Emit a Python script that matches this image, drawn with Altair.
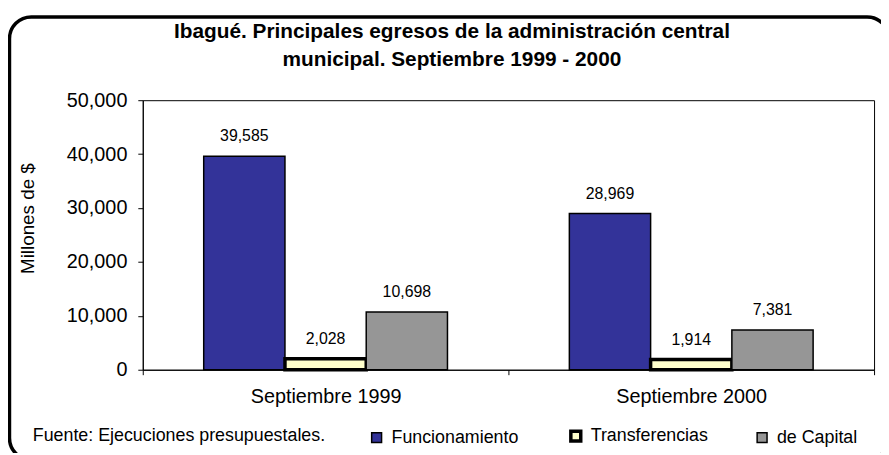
import altair as alt
import pandas as pd

periodos = ["Septiembre 1999", "Septiembre 2000"]
series = ["Funcionamiento", "Transferencias", "de Capital"]
funcionamiento = [39585, 28969]
transferencias = [2028, 1914]
de_capital = [10698, 7381]
colores = ["#333399", "#FFFFCC", "#969696"]
grosores = [1.5, 3.5, 1.5]
titulo = ["Ibagué. Principales egresos de la administración central",
          "municipal. Septiembre 1999 - 2000"]
eje_y = "Millones de $"
fuente = "Fuente: Ejecuciones presupuestales."
y_ticks = [0, 10000, 20000, 30000, 40000, 50000]

valores = {"Funcionamiento": funcionamiento, "Transferencias": transferencias, "de Capital": de_capital}
rows = []
for s in series:
    for p, v in zip(periodos, valores[s]):
        rows.append({"periodo": p, "serie": s, "valor": v})
df = pd.DataFrame(rows)

FONT = "Liberation Sans"

x = alt.X("periodo:N", sort=periodos, title=None,
          scale=alt.Scale(paddingInner=0, paddingOuter=0),
          axis=alt.Axis(labelAngle=0, labelFontSize=20, labelPadding=12, tickSize=5,
                        tickBand="extent", domainColor="black", tickColor="black",
                        labelColor="black"))
xoff = alt.XOffset("serie:N", sort=series,
                   scale=alt.Scale(paddingInner=0, paddingOuter=0.75))
y = alt.Y("valor:Q", scale=alt.Scale(domain=[0, 50000], nice=False),
          axis=alt.Axis(values=y_ticks, format=",.0f", labelFontSize=20, tickSize=5,
                        labelPadding=11, grid=False, title=eje_y, titleFontSize=19,
                        titleFontWeight="normal", titleX=-116, titleY=119,
                        titleBaseline="middle", titleColor="black",
                        domainColor="black", tickColor="black", labelColor="black"))

bars = alt.Chart(df).mark_bar(stroke="black").encode(
    x=x, xOffset=xoff, y=y,
    color=alt.Color("serie:N", sort=series,
                    scale=alt.Scale(domain=series, range=colores),
                    legend=alt.Legend(orient="none", legendX=227, legendY=330,
                                      direction="horizontal", title=None,
                                      symbolType="square", symbolSize=100,
                                      symbolStrokeColor="black",
                                      labelFontSize=18, labelOffset=6,
                                      columnPadding=45, labelColor="black",
                                      labelFont=FONT, padding=0)),
    strokeWidth=alt.StrokeWidth("serie:N", sort=series,
                                scale=alt.Scale(type="ordinal", domain=series, range=grosores)),
)

labels = alt.Chart(df).mark_text(baseline="bottom", dy=-12, fontSize=16,
                                 font=FONT, color="black").encode(
    x=x, xOffset=xoff, y=y, text=alt.Text("valor:Q", format=",.0f"))

titulo_txt = alt.Chart(pd.DataFrame({"a": [0]})).mark_text(
    align="center", baseline="middle", fontSize=21, fontWeight="bold", font=FONT,
    lineHeight=28, color="black").encode(
    x=alt.value(312), y=alt.value(-69), text=alt.value(titulo))

fuente_txt = alt.Chart(pd.DataFrame({"t": [fuente]})).mark_text(
    align="left", baseline="middle", fontSize=18, font=FONT, color="black").encode(
    x=alt.value(-111), y=alt.value(339), text="t:N")

borde = alt.Chart(pd.DataFrame({"a": [0]})).mark_rect(
    filled=False, stroke="black", strokeWidth=3.5, cornerRadius=22).encode(
    x=alt.value(-134.5), x2=alt.value(753), y=alt.value(-84), y2=alt.value(363))

chart = alt.layer(bars, labels, titulo_txt, fuente_txt, borde).properties(
    width=738, height=272,
    autosize=alt.AutoSizeParams(type="none"),
    padding={"left": 136, "top": 91, "right": 7, "bottom": 82},
).configure(font=FONT).configure_view(stroke="black", strokeWidth=1)

chart.save("out.html", embed_options={"renderer": "svg", "actions": False})
